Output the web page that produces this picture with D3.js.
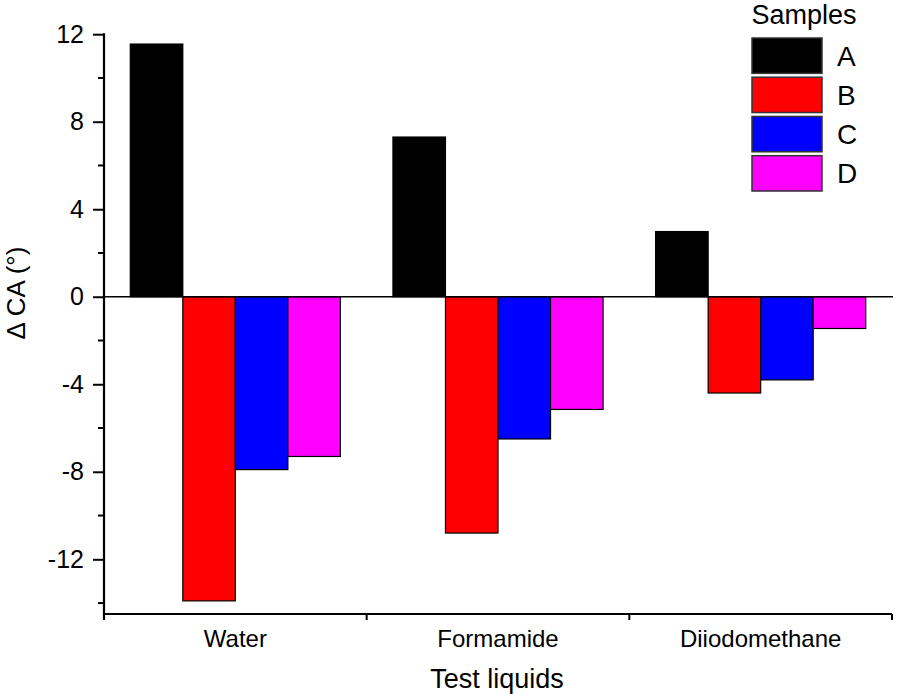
<!DOCTYPE html>
<html>
<head>
<meta charset="utf-8">
<script src="https://cdn.jsdelivr.net/npm/d3@7/dist/d3.min.js"></script>
<style>
  html, body { margin: 0; padding: 0; background: #fff; }
  svg { display: block; font-family: "Liberation Sans", Arial, sans-serif; }
</style>
</head>
<body>
<svg id="chart" width="898" height="694"></svg>
<script>
const categories = ["Water", "Formamide", "Diiodomethane"];
const samples = ["A", "B", "C", "D"];
const seriesA = [11.55, 7.3, 2.98];
const seriesB = [-13.9, -10.8, -4.4];
const seriesC = [-7.9, -6.5, -3.8];
const seriesD = [-7.3, -5.15, -1.45];
const colors = ["#000000", "#ff0000", "#0000ff", "#ff00ff"];
const yMajorTicks = [-12, -8, -4, 0, 4, 8, 12];
const yMinorTicks = [-14, -10, -6, -2, 2, 6, 10];

const series = [seriesA, seriesB, seriesC, seriesD];
const svg = d3.select("#chart");

const mL = 104, mR = 892, mT = 34.2, mB = 614;
const x = d3.scaleBand().domain(categories).range([mL, mR]).paddingInner(0).paddingOuter(0);
const xs = d3.scaleBand().domain(samples).range([0, x.bandwidth()]).paddingOuter(0.5).paddingInner(0);
const y = d3.scaleLinear().domain([-14.5, 12]).range([mB, mT]);

// Bars
const data = [];
categories.forEach((c, i) => samples.forEach((s, j) => data.push({c, s, v: series[j][i], col: colors[j]})));
svg.append("g").selectAll("rect").data(data).join("rect")
  .attr("x", d => x(d.c) + xs(d.s))
  .attr("width", xs.bandwidth())
  .attr("y", d => y(Math.max(0, d.v)))
  .attr("height", d => Math.abs(y(d.v) - y(0)))
  .attr("fill", d => d.col)
  .attr("stroke", "#000")
  .attr("stroke-width", 1.2);

// Zero line
svg.append("line")
  .attr("x1", mL).attr("x2", mR + 1)
  .attr("y1", y(0)).attr("y2", y(0))
  .attr("stroke", "#000").attr("stroke-width", 1.5);

// Y axis
const yAxis = svg.append("g").attr("transform", `translate(${mL},0)`)
  .call(d3.axisLeft(y).tickValues(yMajorTicks).tickFormat(d => String(d)).tickSize(11).tickPadding(9).tickSizeOuter(0));
yAxis.select(".domain").remove();
yAxis.selectAll("line").attr("stroke", "#000").attr("stroke-width", 2);
yAxis.selectAll("text").attr("font-size", 25).attr("fill", "#000")
  .attr("font-family", "'Liberation Sans', Arial, sans-serif");
svg.append("g").attr("transform", `translate(${mL},0)`)
  .selectAll("line").data(yMinorTicks).join("line")
  .attr("x1", -6).attr("x2", 0)
  .attr("y1", d => y(d)).attr("y2", d => y(d))
  .attr("stroke", "#000").attr("stroke-width", 2);
svg.append("line")
  .attr("x1", mL).attr("x2", mL)
  .attr("y1", mT - 1).attr("y2", mB + 6)
  .attr("stroke", "#000").attr("stroke-width", 2.2);

// X axis
svg.append("line")
  .attr("x1", mL).attr("x2", mR)
  .attr("y1", mB).attr("y2", mB)
  .attr("stroke", "#000").attr("stroke-width", 2.2);
const boundaries = categories.map(c => x(c)).concat([x(categories[categories.length - 1]) + x.bandwidth()]);
svg.append("g").selectAll("line").data(boundaries).join("line")
  .attr("x1", d => d).attr("x2", d => d)
  .attr("y1", mB).attr("y2", mB + 6)
  .attr("stroke", "#000").attr("stroke-width", 2);
svg.append("g").selectAll("text").data(categories).join("text")
  .attr("x", d => x(d) + x.bandwidth() / 2)
  .attr("y", 647)
  .attr("text-anchor", "middle")
  .attr("font-size", 24)
  .text(d => d);

// Axis titles
svg.append("text")
  .attr("x", 497).attr("y", 688)
  .attr("text-anchor", "middle")
  .attr("font-size", 27)
  .text("Test liquids");
svg.append("text")
  .attr("transform", `translate(25,293) rotate(-90)`)
  .attr("text-anchor", "middle")
  .attr("font-size", 26)
  .text("Δ CA (°)");

// Legend
const leg = svg.append("g");
leg.append("text").attr("x", 804).attr("y", 24).attr("text-anchor", "middle")
  .attr("font-size", 27).text("Samples");
const legY = d3.scaleBand().domain(samples).range([38, 191]).paddingInner(0.1).paddingOuter(0);
leg.selectAll("rect").data(samples).join("rect")
  .attr("x", 752).attr("width", 70)
  .attr("y", d => legY(d)).attr("height", legY.bandwidth())
  .attr("fill", (d, i) => colors[i])
  .attr("stroke", "#333").attr("stroke-width", 1.5);
leg.selectAll("text.lab").data(samples).join("text").attr("class", "lab")
  .attr("x", 837)
  .attr("y", d => legY(d) + legY.bandwidth() / 2 + 10)
  .attr("font-size", 28)
  .text(d => d);
</script>
</body>
</html>
